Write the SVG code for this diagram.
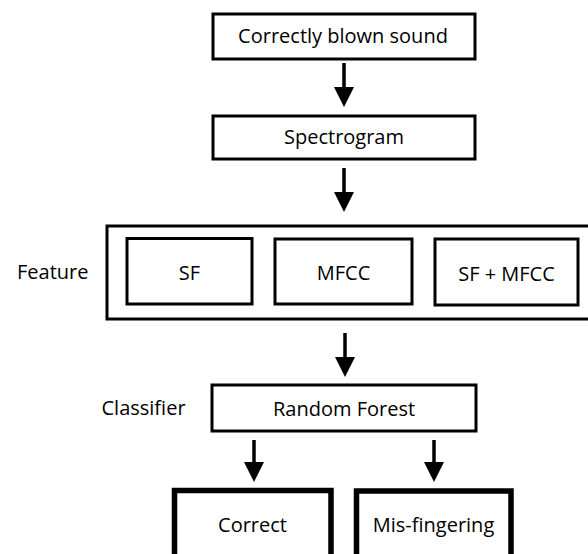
<svg xmlns="http://www.w3.org/2000/svg" width="588" height="554" viewBox="0 0 588 554">
<style>
.box{fill:#fff;stroke:#000;stroke-width:3}
.thick{fill:#fff;stroke:#000;stroke-width:5.5}
.t{font-family:"Open Sans","Noto Sans",sans-serif;font-size:20px;fill:#000;text-anchor:middle}
.lbl{font-family:"Open Sans","Noto Sans",sans-serif;font-size:20px;fill:#000}
.arr{stroke:#000;stroke-width:3.5;fill:none;marker-end:url(#ah)}
</style>
<defs>
<marker id="ah" markerUnits="userSpaceOnUse" markerWidth="20" markerHeight="20" refX="0" refY="10" orient="auto" viewBox="0 0 20 20">
<path d="M0,0 L20,10 L0,20 z" fill="#000"/>
</marker>
</defs>
<rect width="588" height="554" fill="#fff"/>
<g id="connectors">
<line class="arr" x1="344" y1="63" x2="344" y2="87"/>
<line class="arr" x1="344" y1="168" x2="344" y2="192"/>
<line class="arr" x1="345" y1="333" x2="345" y2="357"/>
<line class="arr" x1="254" y1="440" x2="254" y2="462"/>
<line class="arr" x1="434" y1="440" x2="434" y2="462"/>
</g>
<g id="sound">
<rect class="box" x="213" y="14" width="262" height="45"/>
<text class="t" x="343" y="43">Correctly blown sound</text>
</g>
<g id="spectrogram">
<rect class="box" x="213" y="116" width="262" height="43"/>
<text class="t" x="344" y="144">Spectrogram</text>
</g>
<g id="feature">
<rect class="box" x="107" y="226" width="490" height="93"/>
<text class="lbl" x="17" y="278.5">Feature</text>
</g>
<g id="sf">
<rect class="box" x="127" y="238.5" width="125" height="65.5"/>
<text class="t" x="189.5" y="280">SF</text>
</g>
<g id="mfcc">
<rect class="box" x="275" y="239" width="137" height="65"/>
<text class="t" x="343.5" y="280">MFCC</text>
</g>
<g id="sfmfcc">
<rect class="box" x="435" y="239" width="143" height="66"/>
<text class="t" x="506.5" y="280.5">SF + MFCC</text>
</g>
<g id="classifier">
<rect class="box" x="212" y="385" width="264" height="46"/>
<text class="t" x="344" y="416">Random Forest</text>
<text class="lbl" x="101.5" y="415">Classifier</text>
</g>
<g id="correct">
<rect class="thick" x="174.5" y="490.5" width="156.5" height="75"/>
<text class="t" x="252.5" y="531.5">Correct</text>
</g>
<g id="misfingering">
<rect class="thick" x="356.5" y="491" width="154.5" height="75"/>
<text class="t" x="433.5" y="531.5">Mis-fingering</text>
</g>
</svg>
